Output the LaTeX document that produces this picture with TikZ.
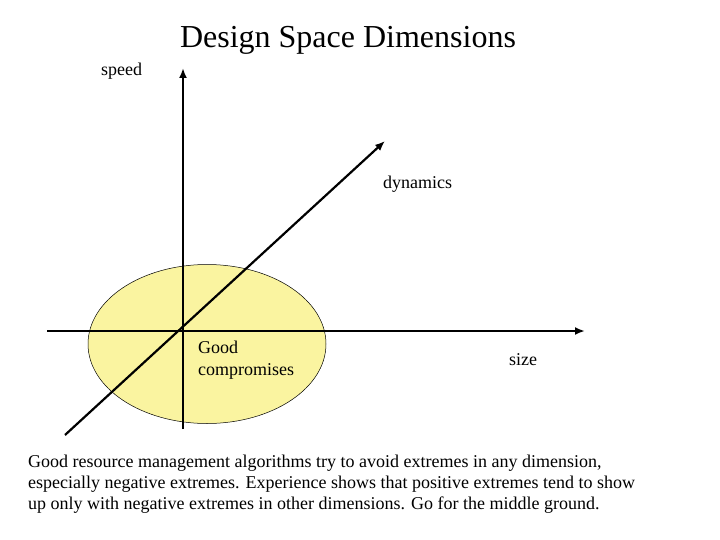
\documentclass[tikz,border=0pt]{standalone}
\usepackage{fontspec}
\setmainfont{Liberation Serif}
\usetikzlibrary{arrows.meta,shapes.geometric}
\definecolor{paleyellow}{RGB}{250,244,160}
\tikzset{
  axis/.style={line width=2.2pt,-{Latex[length=10pt,width=8pt]}},
  lbl/.style={anchor=base west,inner sep=0pt,font=\fontsize{18}{21}\selectfont},
  blob/.style={ellipse,draw=black,line width=0.5pt,fill=paleyellow,minimum width=238pt,minimum height=159pt,inner sep=0pt}
}
\begin{document}
\begin{tikzpicture}[x=1pt,y=-1pt]
\useasboundingbox (0,0) rectangle (720,540);
\node[blob] (good) at (207,344) {};
\coordinate (vs) at (183,429);
\coordinate (ve) at (183,68);
\coordinate (hs) at (47,331);
\coordinate (he) at (585,331);
\coordinate (ds) at (65,435);
\coordinate (de) at (385,141);
\draw[axis] (vs) -- (ve);
\draw[axis] (hs) -- (he);
\draw[axis] (ds) -- (de);
\node[anchor=base,inner sep=0pt,font=\fontsize{32}{36}\selectfont] (title) at (348,48) {Design Space Dimensions};
\node[lbl] (speed) at (101,76) {speed};
\node[lbl] (dyn) at (383,189) {dynamics};
\node[lbl] (good1) at (198,353) {Good};
\node[lbl] (good2) at (198,375) {compromises};
\node[lbl] (size) at (509,365) {size};
\node[lbl,align=left,anchor=north west] (body) at (28,455) {Good resource management algorithms try to avoid extremes in any dimension,\\especially negative extremes. Experience shows that positive extremes tend to show\\up only with negative extremes in other dimensions. Go for the middle ground.};
\end{tikzpicture}
\end{document}
